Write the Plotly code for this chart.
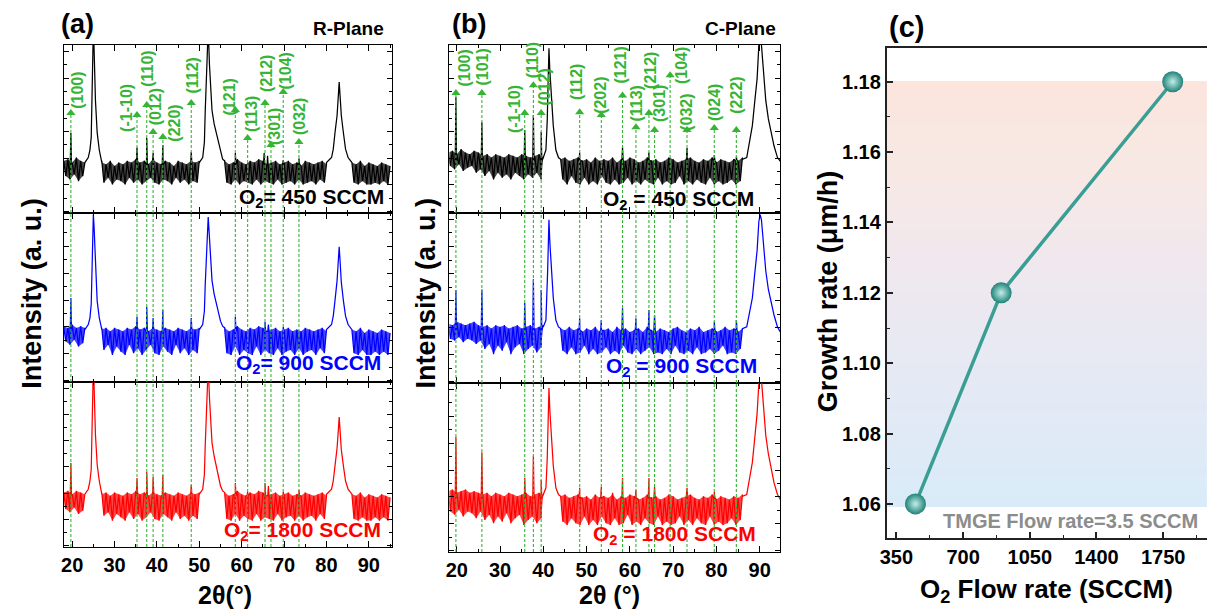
import plotly.graph_objects as go
import numpy as np

W, H = 1207, 611
FONT = "Liberation Sans, Arial, sans-serif"
GREEN = "#36b436"
BLACK, BLUE, RED = "#000000", "#0000ff", "#ff0000"
TEAL = "#3a9e94"

# ================= Panel (a): R-plane =================
A_PEAK_POS = [19.7, 35.3, 37.6, 39.1, 41.4, 48.1, 58.5, 61.4, 65.5, 66.9, 69.8, 73.5]
A_PEAK_LABELS = ["(100)", "(-1-10)", "(110)", "(012)", "(220)", "(112)", "(121)",
                 "(113)", "(212)", "(301)", "(104)", "(032)"]
A_ARROW_TIP = [59.5, 58.3, 64.3, 48.2, 45.2, 65.5, 61.3, 44.6, 65.5, 40.5, 72.0, 42.3]
A_LABEL_X = [21.1, 32.8, 37.6, 39.7, 44.2, 48.4, 57.1, 62.2, 65.7, 67.7, 70.4, 73.6]
A_LABEL_Y = [73.2, 62.8, 85.7, 63.3, 53.6, 81.5, 69.0, 58.9, 83.3, 51.4, 84.7, 57.3]
A_SEG_START = [18, 27, 56, 86]

# broad substrate / film peaks (shared 2theta sample points)
A_P25_X = [23, 23.8, 24.2, 24.5, 24.7, 24.9, 25.0, 25.15, 25.5, 25.9, 26.4, 27.0]
A_P52_X = [50, 50.8, 51.2, 51.4, 51.7, 52.0, 52.1, 52.4, 52.8, 53.0, 53.5, 54.0, 54.5, 55.0, 55.5, 56]
A_P83_X = [80, 81.2, 81.6, 82.0, 82.5, 82.8, 83.0, 83.2, 83.5, 84.0, 84.5, 85.1, 86]

# O2 = 450 SCCM (black)
A450_P25_Y = [30, 33, 37.5, 45, 67, 100, 110, 100, 67, 48, 37.5, 31]
A450_P52_Y = [30, 33, 42, 61, 80, 105, 110, 88, 70, 61, 53, 47.6, 41, 35.7, 32, 30]
A450_P83_Y = [30, 33, 38, 47.6, 58, 70, 78, 70, 58, 47.6, 38, 33, 30]
A450_SPIKE_X = [19.7, 35.3, 37.6, 39.1, 41.4, 48.1, 58.5, 65.3, 66.1, 69.8, 73.5]
A450_SPIKE_Y = [47.6, 39.0, 44.6, 35.7, 40.5, 36.3, 35.7, 35.7, 34.0, 31.5, 32.5]
A450_BASE = 29
A450_HI = [[31, 32, 30, 33, 31, 30],
           [30, 29, 31, 28, 30, 29, 31, 30, 32, 30, 31, 29, 32, 30, 29, 31, 30, 28, 31, 30, 29, 31, 30, 31],
           [31, 29, 30, 32, 30, 29, 31, 30, 32, 31, 29, 30, 31, 29, 30, 31, 29, 30, 28, 31, 30, 29, 30, 31, 29],
           [30, 29, 31, 28, 30, 29, 28, 30, 29, 28]]
A450_LO = [[22, 20, 23, 19, 22, 21],
           [18, 21, 17, 20, 19, 17, 21, 18, 20, 17, 19, 21, 18, 17, 20, 19, 17, 21, 18, 20, 17, 19, 18, 21],
           [18, 17, 20, 17, 19, 18, 17, 20, 17, 19, 18, 17, 20, 17, 18, 19, 17, 20, 17, 18, 19, 17, 20, 18, 17],
           [18, 17, 19, 17, 17, 18, 17, 19, 17, 18]]

# O2 = 900 SCCM (blue)
A900_P25_Y = [31, 34, 38, 46, 68, 95, 99, 93, 66, 48, 38, 32]
A900_P52_Y = [31, 34, 42, 58, 76, 95, 97.6, 85, 68, 60, 52, 46, 40, 36, 33, 31]
A900_P83_Y = [31, 34, 39, 48, 60, 72, 80, 72, 59, 48, 39, 34, 31]
A900_SPIKE_X = [19.7, 35.3, 37.6, 39.1, 41.4, 48.1, 58.5, 65.5, 66.3, 69.8]
A900_SPIKE_Y = [49.7, 38.5, 44.4, 37.9, 42.6, 37.9, 38.5, 35.5, 34.0, 32.5]
A900_BASE = 30
A900_HI = [[33, 32, 34, 32, 33, 32],
           [31, 32, 30, 32, 31, 30, 32, 31, 33, 31, 32, 30, 32, 31, 30, 32, 31, 30, 32, 31, 30, 32, 31, 32],
           [32, 30, 31, 33, 31, 30, 32, 31, 33, 32, 30, 31, 32, 30, 31, 32, 30, 31, 30, 32, 31, 30, 31, 32, 30],
           [31, 30, 32, 29, 31, 30, 29, 31, 30, 29]]
A900_LO = [[24, 22, 25, 21, 23, 22],
           [19, 22, 16, 21, 18, 16, 22, 17, 20, 16, 19, 22, 17, 16, 21, 18, 16, 22, 17, 20, 16, 19, 17, 21],
           [17, 16, 21, 16, 19, 17, 16, 21, 16, 19, 17, 16, 20, 16, 18, 19, 16, 20, 16, 18, 19, 16, 20, 17, 16],
           [17, 16, 19, 16, 16, 18, 16, 18, 16, 17]]

# O2 = 1800 SCCM (red)
A1800_P25_Y = [32, 35, 40, 47, 70, 100, 110, 100, 68, 50, 40, 33]
A1800_P52_Y = [32, 35, 44, 62, 82, 105, 110, 90, 72, 63, 55, 49, 43, 37, 34, 32]
A1800_P83_Y = [32, 35, 40, 49, 60, 71, 78.8, 71, 59, 49, 40, 35, 32]
A1800_SPIKE_X = [19.7, 35.3, 37.6, 39.1, 41.4, 48.1, 58.5, 61.4, 65.5, 66.3, 69.8, 73.5]
A1800_SPIKE_Y = [50.9, 41.8, 45.5, 42.4, 43.6, 37.6, 38.8, 33.5, 38.8, 37.0, 33.5, 34.5]
A1800_BASE = 31
A1800_HI = [[33, 34, 32, 34, 33, 32],
            [32, 33, 31, 33, 32, 31, 33, 32, 34, 32, 33, 31, 33, 32, 31, 33, 32, 31, 33, 32, 31, 33, 32, 33],
            [33, 31, 32, 34, 32, 31, 33, 32, 34, 33, 31, 32, 33, 31, 32, 33, 31, 32, 31, 33, 32, 31, 32, 33, 31],
            [32, 31, 33, 30, 32, 31, 30, 32, 31, 30]]
A1800_LO = [[23, 21, 24, 20, 22, 21],
            [19, 21, 16, 20, 18, 16, 21, 17, 20, 16, 18, 21, 17, 16, 20, 18, 16, 21, 17, 19, 16, 19, 17, 20],
            [17, 16, 20, 16, 19, 17, 16, 20, 16, 18, 17, 16, 20, 16, 18, 19, 16, 19, 16, 18, 19, 16, 20, 17, 16],
            [17, 16, 18, 16, 16, 18, 16, 18, 16, 17]]

# ================= Panel (b): C-plane =================
B_PEAK_POS = [19.8, 25.8, 35.7, 37.7, 39.5, 48.4, 53.4, 58.3, 61.4, 64.4, 65.7, 69.3, 73.2, 79.5, 84.6]
B_PEAK_LABELS = ["(100)", "(101)", "(-1-10)", "(110)", "(012)", "(112)", "(202)", "(121)",
                 "(113)", "(212)", "(301)", "(104)", "(032)", "(024)", "(222)"]
B_ARROW_TIP = [71.4, 71.4, 59.5, 76.0, 59.5, 60.0, 58.3, 70.0, 51.0, 59.5, 49.4, 82.0, 49.4, 50.6, 49.4]
B_LABEL_X = [21.9, 26.0, 33.5, 37.5, 40.2, 47.8, 53.2, 57.8, 61.6, 64.7, 67.0, 71.9, 73.1, 79.4, 84.6]
B_LABEL_Y = [86.6, 87.0, 62.0, 90.6, 74.8, 78.0, 70.0, 88.0, 65.0, 84.7, 65.0, 87.7, 60.0, 66.0, 70.0]
B_SEG_START = [18, 44]

B_P41_X = [40, 40.6, 40.9, 41.0, 41.2, 41.3, 41.5, 41.9, 42.3, 42.9, 43.5, 44]
B_P90_X = [86, 87.0, 87.5, 88.3, 88.8, 89.4, 89.8, 90.1, 90.4, 90.8, 91.4, 92.0, 92.6, 93.3, 94.1, 95]

B450_P41_Y = [33, 37.5, 55, 67, 88, 98, 85, 67, 52, 37.5, 33, 32]
B450_P90_Y = [32, 33, 40, 52, 65, 80, 100, 106, 100, 85, 67, 56, 47.6, 40, 33, 30]
B450_SPIKE_X = [19.8, 25.8, 35.7, 37.7, 39.5, 48.4, 58.3, 64.4, 73.2, 79.5, 84.6]
B450_SPIKE_Y = [69.0, 54.0, 49.4, 58.3, 48.2, 36.0, 39.0, 36.0, 38.7, 34.5, 33.5]
B450_BASE = 31
B450_HI = [[36, 37, 35, 38, 36, 35, 37, 36, 34, 35, 33, 35, 34, 33, 35, 34, 33, 35, 34, 33, 34, 35, 33],
           [32, 33, 31, 32, 33, 31, 32, 30, 33, 31, 32, 31, 33, 30, 32, 31, 33, 32, 30, 31, 33, 31, 32, 30,
            31, 33, 32, 30, 31, 32, 33, 31, 30, 32, 31, 33, 30, 32, 31, 30, 32, 31, 33]]
B450_LO = [[28, 26, 29, 25, 27, 28, 24, 26, 22, 25, 20, 24, 21, 23, 20, 24, 22, 20, 23, 21, 24, 20, 23],
           [20, 17, 22, 18, 17, 21, 17, 19, 17, 22, 18, 17, 20, 17, 18, 21, 17, 19, 17, 20, 18, 17, 21, 17,
            19, 17, 18, 22, 17, 19, 17, 20, 18, 17, 21, 17, 19, 17, 18, 20, 17, 19, 22]]

B900_P41_Y = [33, 37, 54, 66, 86, 96, 83, 65, 50, 37, 33, 32]
B900_P90_Y = [32, 33, 39, 50, 63, 78, 95, 99, 96, 84, 66, 55, 48, 40, 33, 29]
B900_SPIKE_X = [19.8, 25.8, 35.7, 37.7, 39.5, 48.4, 53.4, 58.3, 61.4, 64.4, 65.7, 79.5, 84.6]
B900_SPIKE_Y = [54.7, 55.0, 47.0, 61.0, 54.7, 38.0, 37.0, 44.0, 38.0, 43.0, 40.0, 36.0, 37.0]
B900_BASE = 31
B900_HI = [[35, 34, 36, 35, 34, 35, 36, 34, 33, 34, 32, 34, 33, 34, 32, 33, 34, 32, 33, 34, 32, 33, 34],
           [32, 31, 33, 31, 32, 30, 32, 31, 33, 30, 31, 32, 30, 33, 31, 32, 30, 31, 32, 30, 33, 31, 30, 32,
            31, 30, 32, 33, 31, 30, 32, 31, 33, 30, 31, 32, 30, 31, 33, 31, 32, 30, 32]]
B900_LO = [[26, 25, 27, 24, 26, 25, 23, 25, 20, 23, 17, 22, 19, 24, 17, 21, 23, 17, 20, 22, 18, 21, 23],
           [19, 17, 21, 17, 18, 22, 17, 20, 17, 18, 21, 17, 19, 17, 22, 18, 17, 20, 17, 19, 21, 17, 18, 17,
            20, 17, 22, 18, 17, 19, 17, 21, 17, 18, 20, 17, 19, 22, 17, 18, 17, 20, 21]]

B1800_P41_Y = [34, 38, 55, 67, 87, 97, 84, 66, 51, 38, 34, 33]
B1800_P90_Y = [33, 34, 41, 53, 66, 82, 100, 106, 102, 87, 69, 58, 49, 41, 34, 30]
B1800_SPIKE_X = [19.8, 25.8, 35.7, 37.7, 39.5, 48.4, 53.4, 56.0, 58.3, 61.4, 64.4, 65.7, 73.2, 79.5]
B1800_SPIKE_Y = [68.0, 59.0, 44.0, 57.0, 42.6, 38.0, 38.5, 35.0, 43.8, 36.7, 43.8, 38.5, 38.0, 35.5]
B1800_BASE = 32
B1800_HI = [[36, 37, 35, 36, 37, 35, 36, 35, 34, 35, 33, 35, 34, 33, 35, 34, 33, 34, 35, 33, 34, 35, 34],
            [33, 34, 32, 33, 34, 32, 33, 31, 34, 32, 33, 32, 34, 31, 33, 32, 34, 33, 31, 32, 34, 32, 33, 31,
             32, 34, 33, 31, 32, 33, 34, 32, 31, 33, 32, 34, 31, 33, 32, 31, 33, 32, 34]]
B1800_LO = [[24, 22, 25, 21, 24, 23, 20, 24, 19, 22, 17, 21, 18, 23, 17, 20, 22, 16, 19, 21, 17, 20, 22],
            [18, 16, 20, 17, 16, 21, 16, 19, 16, 21, 17, 16, 20, 16, 17, 22, 16, 18, 16, 20, 17, 16, 21, 16,
             18, 16, 17, 21, 16, 19, 16, 20, 17, 16, 21, 16, 18, 16, 17, 20, 16, 19, 21]]

# ================= Panel (c): growth rate =================
O2_FLOW = [450, 900, 1800]
GROWTH_RATE = [1.06, 1.12, 1.18]
C_XTICKS = [350, 700, 1050, 1400, 1750]
C_YTICKS = [1.06, 1.08, 1.10, 1.12, 1.14, 1.16, 1.18]


# ---------------- helpers ----------------
def spectrum_xy(starts, his, los, spx, spy, base, broad):
    """One continuous trace: noise envelope (upper samples on whole degrees,
    lower samples in between), narrow reflections and the broad peaks."""
    pts = []
    order = 0
    for s, hi, lo in zip(starts, his, los):
        n = min(len(hi), len(lo))
        for i in range(n):
            pts.append((s + i, order, hi[i])); order += 1
            if i < n - 1:
                pts.append((s + i + 0.5, order, lo[i])); order += 1
    for p, h in zip(spx, spy):
        for dx, yy in ((-0.15, base), (0.0, h), (0.15, base)):
            pts.append((p + dx, order, yy)); order += 1
    for bx, by in broad:
        for xx, yy in zip(bx, by):
            pts.append((xx, order, yy)); order += 1
    pts.sort()
    return [p[0] for p in pts], [p[2] for p in pts]


def band_xy(starts, his, los):
    """Closed polygons spanning the noise envelope (filled underneath the trace)."""
    xs, ys = [], []
    for s, hi, lo in zip(starts, his, los):
        n = min(len(hi), len(lo))
        ux = [s + i for i in range(n)]
        lx = [s + i + 0.5 for i in range(n - 1)]
        xs += ux + lx[::-1] + [None]
        ys += list(hi[:n]) + list(lo[:n - 1])[::-1] + [None]
    return xs, ys


def rgba(c, a):
    c = c.lstrip('#')
    return "rgba(%d,%d,%d,%.2f)" % (int(c[0:2], 16), int(c[2:4], 16), int(c[4:6], 16), a)


fig = go.Figure()


def add_spectrum(xa, ya, color, starts, hi, lo, spx, spy, base, broad):
    bx, by = band_xy(starts, hi, lo)
    fig.add_trace(go.Scatter(x=bx, y=by, mode="lines", fill="toself", fillcolor=rgba(color, 0.72),
                             line=dict(width=0), xaxis=xa, yaxis=ya, hoverinfo="skip", showlegend=False))
    lx, ly = spectrum_xy(starts, hi, lo, spx, spy, base, broad)
    fig.add_trace(go.Scatter(x=lx, y=ly, mode="lines", line=dict(color=color, width=1.25),
                             xaxis=xa, yaxis=ya, hoverinfo="skip", showlegend=False))


# panel (a)
add_spectrum("x", "y", BLACK, A_SEG_START, A450_HI, A450_LO, A450_SPIKE_X, A450_SPIKE_Y, A450_BASE,
             [(A_P25_X, A450_P25_Y), (A_P52_X, A450_P52_Y), (A_P83_X, A450_P83_Y)])
add_spectrum("x2", "y2", BLUE, A_SEG_START, A900_HI, A900_LO, A900_SPIKE_X, A900_SPIKE_Y, A900_BASE,
             [(A_P25_X, A900_P25_Y), (A_P52_X, A900_P52_Y), (A_P83_X, A900_P83_Y)])
add_spectrum("x3", "y3", RED, A_SEG_START, A1800_HI, A1800_LO, A1800_SPIKE_X, A1800_SPIKE_Y, A1800_BASE,
             [(A_P25_X, A1800_P25_Y), (A_P52_X, A1800_P52_Y), (A_P83_X, A1800_P83_Y)])
# panel (b)
add_spectrum("x4", "y4", BLACK, B_SEG_START, B450_HI, B450_LO, B450_SPIKE_X, B450_SPIKE_Y, B450_BASE,
             [(B_P41_X, B450_P41_Y), (B_P90_X, B450_P90_Y)])
add_spectrum("x5", "y5", BLUE, B_SEG_START, B900_HI, B900_LO, B900_SPIKE_X, B900_SPIKE_Y, B900_BASE,
             [(B_P41_X, B900_P41_Y), (B_P90_X, B900_P90_Y)])
add_spectrum("x6", "y6", RED, B_SEG_START, B1800_HI, B1800_LO, B1800_SPIKE_X, B1800_SPIKE_Y, B1800_BASE,
             [(B_P41_X, B1800_P41_Y), (B_P90_X, B1800_P90_Y)])

# arrow heads on the top spectra
fig.add_trace(go.Scatter(x=A_PEAK_POS, y=A_ARROW_TIP, mode="markers", xaxis="x", yaxis="y",
                         marker=dict(symbol="triangle-up", size=8, color=GREEN),
                         hoverinfo="skip", showlegend=False))
fig.add_trace(go.Scatter(x=B_PEAK_POS, y=B_ARROW_TIP, mode="markers", xaxis="x4", yaxis="y4",
                         marker=dict(symbol="triangle-up", size=8, color=GREEN),
                         hoverinfo="skip", showlegend=False))

# panel (c) gradient background
NG = 120
grad_edges = np.linspace(1.0592, 1.1802, NG + 1)
grad_z = [[v] for v in np.linspace(0, 1, NG)]
fig.add_trace(go.Heatmap(x=[300, 1980], y=grad_edges, z=grad_z, xaxis="x7", yaxis="y7",
                         colorscale=[[0, "#d9ebf8"], [0.3, "#e5e9f4"], [0.55, "#efe8ef"],
                                     [0.8, "#f8e8e4"], [1, "#fbe5dd"]],
                         showscale=False, hoverinfo="skip", zsmooth=False))
fig.add_trace(go.Scatter(x=O2_FLOW, y=GROWTH_RATE, mode="lines+markers", xaxis="x7", yaxis="y7",
                         line=dict(color=TEAL, width=3.5),
                         marker=dict(size=21, color="#1f8278", line=dict(width=0),
                                     gradient=dict(type="radial", color="#c2efe9")),
                         hoverinfo="skip", showlegend=False))

# ---------------- axes ----------------
def fy(py):
    return 1 - py / H


def fx(px):
    return px / W


A_DOM = [fx(57), fx(387)]
B_DOM = [fx(445), fx(778)]
A_YDOMS = [[fy(213), fy(45)], [fy(382), fy(213)], [fy(547), fy(382)]]
B_YDOMS = [[fy(213), fy(45)], [fy(383), fy(213)], [fy(552), fy(383)]]

tickfont = dict(family=FONT, size=20, color="black", weight="bold")


def spec_x(dom, rng, anchor, labels):
    return dict(domain=dom, range=rng, anchor=anchor, showline=True, linecolor="black", linewidth=1.1,
                mirror="allticks", ticks="inside", ticklen=6, tickwidth=1.1, tickcolor="black",
                tick0=0, dtick=10,
                minor=dict(tick0=0, dtick=5, ticks="inside", ticklen=3, tickwidth=1, tickcolor="black"),
                showgrid=False, zeroline=False, showticklabels=labels, tickfont=tickfont)


def spec_y(dom, anchor):
    return dict(domain=dom, range=[0, 100], anchor=anchor, showline=True, linecolor="black",
                linewidth=1.1, mirror="allticks", ticks="inside", ticklen=5, tickwidth=1.0,
                tickcolor="black", tick0=0.8, dtick=15.9,
                minor=dict(tick0=0.8, dtick=7.95, ticks="inside", ticklen=3, tickwidth=1, tickcolor="black"),
                showgrid=False, zeroline=False, showticklabels=False)


layout = dict(width=W, height=H, margin=dict(l=0, r=0, t=0, b=0),
              paper_bgcolor="white", plot_bgcolor="rgba(0,0,0,0)", showlegend=False,
              font=dict(family=FONT, color="black"))
for i, (xd, yd, rng) in enumerate([(A_DOM, A_YDOMS[0], [18.0, 95.4]), (A_DOM, A_YDOMS[1], [18.0, 95.4]),
                                   (A_DOM, A_YDOMS[2], [18.0, 95.4]), (B_DOM, B_YDOMS[0], [18.3, 94.8]),
                                   (B_DOM, B_YDOMS[1], [18.3, 94.8]), (B_DOM, B_YDOMS[2], [18.3, 94.8])]):
    n = i + 1
    xk = "xaxis" if n == 1 else "xaxis%d" % n
    yk = "yaxis" if n == 1 else "yaxis%d" % n
    ya = "y" if n == 1 else "y%d" % n
    xa = "x" if n == 1 else "x%d" % n
    layout[xk] = spec_x(xd, rng, ya, n in (3, 6))
    layout[yk] = spec_y(yd, xa)

layout["xaxis7"] = dict(domain=[fx(885), 1.0], range=[300, 1980], anchor="y7", showline=True,
                        linecolor="#222", linewidth=2, mirror=True, ticks="inside", ticklen=6,
                        tickwidth=1.5, tickcolor="#222", tickvals=C_XTICKS,
                        minor=dict(tick0=175, dtick=350, ticks="inside", ticklen=3, tickwidth=1.2,
                                   tickcolor="#222"),
                        showgrid=False, zeroline=False, tickfont=tickfont)
layout["yaxis7"] = dict(domain=[fy(538), fy(48)], range=[1.0503, 1.1896], anchor="x7", showline=True,
                        linecolor="#222", linewidth=2, mirror=False, ticks="inside", ticklen=6,
                        tickwidth=1.5, tickcolor="#222", tickvals=C_YTICKS, tickformat=".2f",
                        minor=dict(tick0=1.05, dtick=0.02, ticks="inside", ticklen=3, tickwidth=1.2,
                                   tickcolor="#222"),
                        showgrid=False, zeroline=False, tickfont=tickfont)

# ---------------- dashed reference lines ----------------
shapes = []
dash = dict(color=GREEN, width=1.1, dash="3px,2px")
for pos_list, tips, axes in [(A_PEAK_POS, A_ARROW_TIP, ("", "2", "3")),
                             (B_PEAK_POS, B_ARROW_TIP, ("4", "5", "6"))]:
    for p, t in zip(pos_list, tips):
        shapes.append(dict(type="line", xref="x" + axes[0], yref="y" + axes[0], x0=p, x1=p, y0=0, y1=t,
                           line=dash, layer="above"))
        for a in axes[1:]:
            shapes.append(dict(type="line", xref="x" + a, yref="y%s domain" % a, x0=p, x1=p, y0=0, y1=1,
                               line=dash, layer="above"))
layout["shapes"] = shapes

# ---------------- annotations ----------------
ann = []


def bold(size, color="black"):
    return dict(family=FONT, size=size, color=color, weight="bold")


for lx, ly, txt in zip(A_LABEL_X, A_LABEL_Y, A_PEAK_LABELS):
    ann.append(dict(x=lx, y=ly, xref="x", yref="y", text=txt, textangle=-90, showarrow=False,
                    font=bold(16, GREEN), xanchor="center", yanchor="middle"))
for lx, ly, txt in zip(B_LABEL_X, B_LABEL_Y, B_PEAK_LABELS):
    ann.append(dict(x=lx, y=ly, xref="x4", yref="y4", text=txt, textangle=-90, showarrow=False,
                    font=bold(16, GREEN), xanchor="center", yanchor="middle"))

SAMPLE = [("x", "y", "O<sub>2</sub>= 450 SCCM", BLACK, 0.982, 0.092),
          ("x2", "y2", "O<sub>2</sub>= 900 SCCM", BLUE, 0.973, 0.104),
          ("x3", "y3", "O<sub>2</sub>= 1800 SCCM", RED, 0.973, 0.097),
          ("x4", "y4", "O<sub>2</sub> = 450 SCCM", BLACK, 0.925, 0.08),
          ("x5", "y5", "O<sub>2</sub> = 900 SCCM", BLUE, 0.934, 0.097),
          ("x6", "y6", "O<sub>2</sub> = 1800 SCCM", RED, 0.931, 0.098)]
for xa, ya, txt, col, xx, yy in SAMPLE:
    ann.append(dict(x=xx, y=yy, xref=xa + " domain", yref=ya + " domain", text=txt, showarrow=False,
                    font=bold(21, col), xanchor="right", yanchor="middle"))

PAPER_TEXT = [("(a)", 71, 24, 27, "center", 0), ("R-Plane", 381, 28, 19, "right", 0),
              ("(b)", 465, 24, 27, "center", 0), ("C-Plane", 775, 28, 19, "right", 0),
              ("(c)", 905, 27, 29, "center", 0),
              ("Intensity (a. u.)", 25, 293, 27, "center", -90),
              ("Intensity (a. u.)", 421, 293, 27, "center", -90),
              ("2θ(°)", 219, 595, 25, "center", 0),
              ("2θ (°)", 606, 595, 25, "center", 0),
              ("O<sub>2</sub> Flow rate (SCCM)", 1046, 590, 26, "center", 0),
              ("Growth rate (μm/h)", 826, 291, 27, "center", -90)]
for txt, px, py, sz, xan, ang in PAPER_TEXT:
    ann.append(dict(x=fx(px), y=fy(py), xref="paper", yref="paper", text=txt, showarrow=False,
                    font=bold(sz), xanchor=xan, yanchor="middle", textangle=ang))
ann.append(dict(x=fx(1200), y=fy(521), xref="paper", yref="paper", text="TMGE Flow rate=3.5 SCCM",
                showarrow=False, font=bold(20, "#8c8c8c"), xanchor="right", yanchor="middle"))
layout["annotations"] = ann

fig.update_layout(**layout)
fig.write_html("out.html")
